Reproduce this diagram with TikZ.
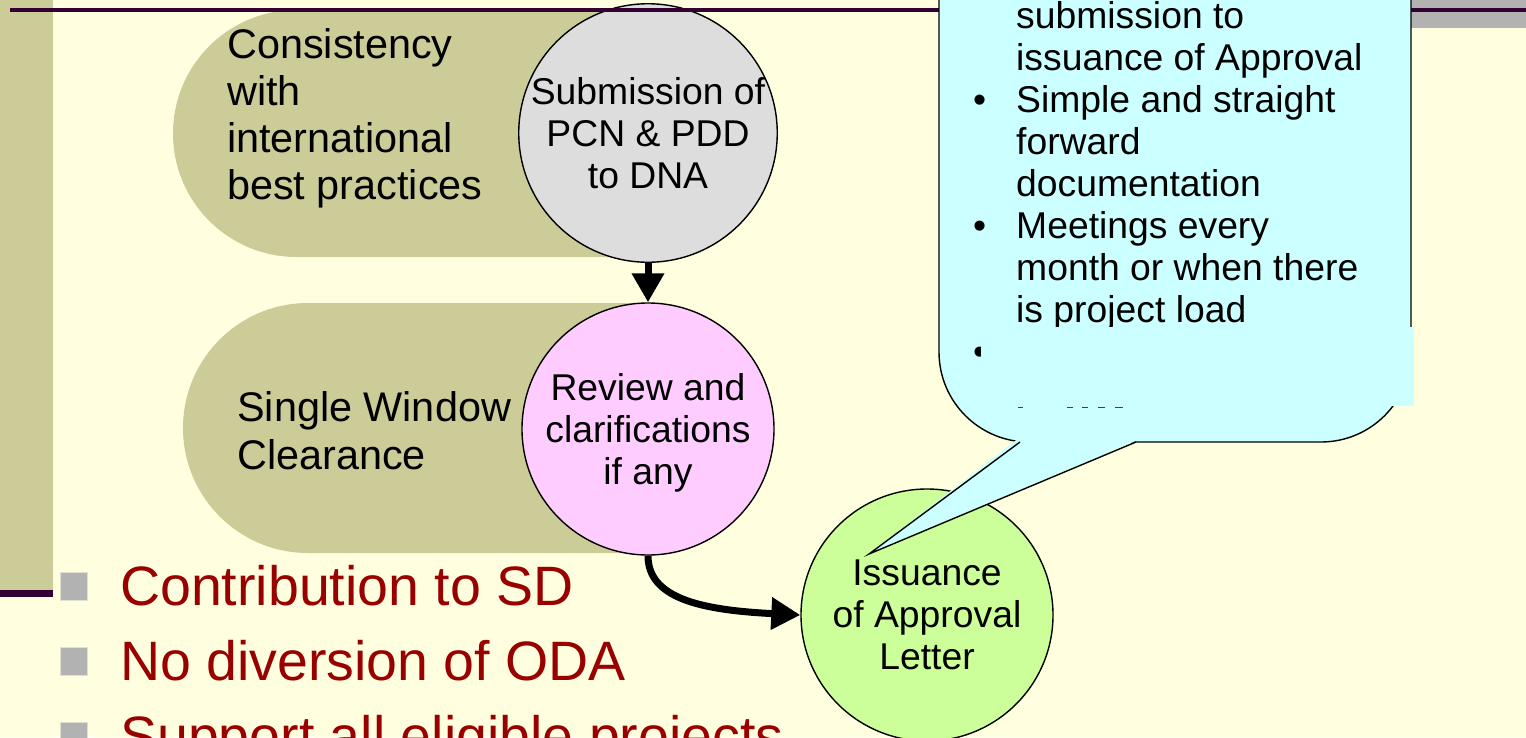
\documentclass[tikz,border=0pt]{standalone}
\usepackage{fontspec}
\setmainfont{Liberation Sans}
\usetikzlibrary{arrows.meta}
\definecolor{bg}{RGB}{255,255,224}
\definecolor{khaki}{RGB}{204,204,153}
\definecolor{darkpurple}{RGB}{51,0,51}
\definecolor{bargray}{RGB}{178,178,178}
\definecolor{sqedge}{RGB}{224,224,208}
\definecolor{c1fill}{RGB}{221,221,221}
\definecolor{c2fill}{RGB}{255,204,255}
\definecolor{c3fill}{RGB}{204,255,153}
\definecolor{callfill}{RGB}{204,255,255}
\definecolor{darkred}{RGB}{153,0,0}
\tikzset{
  circ/.style={circle, draw=black, line width=1.4pt, minimum size=252pt, inner sep=0pt, align=center, font=\fontsize{37.3}{42}\selectfont},
  pilltext/.style={anchor=base west, inner sep=0pt, font=\fontsize{41.4}{47}\selectfont},
  caltext/.style={anchor=base west, inner sep=0pt, font=\fontsize{37.3}{42}\selectfont},
  redtext/.style={anchor=base west, inner sep=0pt, text=darkred, font=\fontsize{55.5}{75}\selectfont},
  flow/.style={line width=7pt, -{Triangle[length=29pt,width=31pt]}},
  sq/.style={fill=bargray, draw=sqedge, line width=0.8pt},
  callout/.style={draw=black, line width=1.4pt, fill=callfill},
}
\begin{document}
\begin{tikzpicture}[x=1pt,y=-1pt]
\useasboundingbox (0,0) rectangle (1526,737);
\fill[bg] (0,0) rectangle (1526,737);
% top right gray bar
\fill[bargray] (1300,0) rectangle (1526,28);
% left bar
\fill[khaki] (0,0) rectangle (53,590);
\fill[darkpurple] (0,590) rectangle (53,597);
% pills
\begin{scope}
  \clip (0,0) rectangle (648,737);
  \fill[khaki, rounded corners=123.5pt] (173,10) rectangle (900,257);
  \fill[khaki, rounded corners=125pt] (183,303) rectangle (900,553);
\end{scope}
\node[pilltext] (p1a) at (227,58) {Consistency};
\node[pilltext] (p1b) at (227,105) {with};
\node[pilltext] (p1c) at (227,152) {international};
\node[pilltext] (p1d) at (227,199) {best practices};
\node[pilltext] (p2a) at (237,421) {Single Window};
\node[pilltext] (p2b) at (237,469) {Clearance};
% red bullet list
\draw[sq] (60,572) rectangle (87,600);
\draw[sq] (60,647) rectangle (87,675);
\draw[sq] (60,722) rectangle (87,750);
\node[redtext] (r1) at (120,605) {Contribution to SD};
\node[redtext] (r2) at (120,680) {No diversion of ODA};
\node[redtext] (r3) at (120,755) {Support all eligible projects};
% circles
\node[circ, fill=c1fill] (c1) at (648,133) {Submission of\\PCN \& PDD\\to DNA};
\node[circ, fill=c2fill] (c2) at (648,429) {Review and\\clarifications\\if \smash{any}};
\node[circ, fill=c3fill] (c3) at (927,615) {Issuance\\of Approval\\Letter};
% arrows
\draw[flow] (c1.south) -- (c2.north);
\draw[flow] (c2.south) .. controls (648,598) and (700,610) .. (c3.west);
% top line
\fill[darkpurple] (10,8) rectangle (1526,12);
% callout
\draw[callout, rounded corners=90pt] (939,-150) rectangle (1411,442);
\fill[callfill] (1017,439.5) -- (869,554) -- (1139,439.5) -- cycle;
\draw[line width=1.4pt, line join=miter] (1020,442) -- (869,554) -- (1136,442);
\node[caltext] (t1) at (1016,28) {submission to};
\node[caltext] (t2) at (1016,70) {issuance of Approval};
\node[caltext] (b1) at (973,112) {\textbullet};
\node[caltext] (t3) at (1016,112) {Simple and straight};
\node[caltext] (t4) at (1016,154) {forward};
\node[caltext] (t5) at (1016,196) {documentation};
\node[caltext] (b2) at (973,238) {\textbullet};
\node[caltext] (t6) at (1016,238) {Meetings every};
\node[caltext] (t7) at (1016,280) {month or when there};
\node[caltext] (t8) at (1016,322) {is project load};
\node[caltext] (b3) at (973,364) {\textbullet};
\fill[callfill] (981,327) rectangle (1414,406);
\draw[line width=1.2pt, black!75] (1018,407.5) -- (1023,407.5) (1067,407.5) -- (1073,407.5) (1082,407.5) -- (1088,407.5) (1098,407.5) -- (1105,407.5) (1115,407.5) -- (1123,407.5);
\end{tikzpicture}
\end{document}
